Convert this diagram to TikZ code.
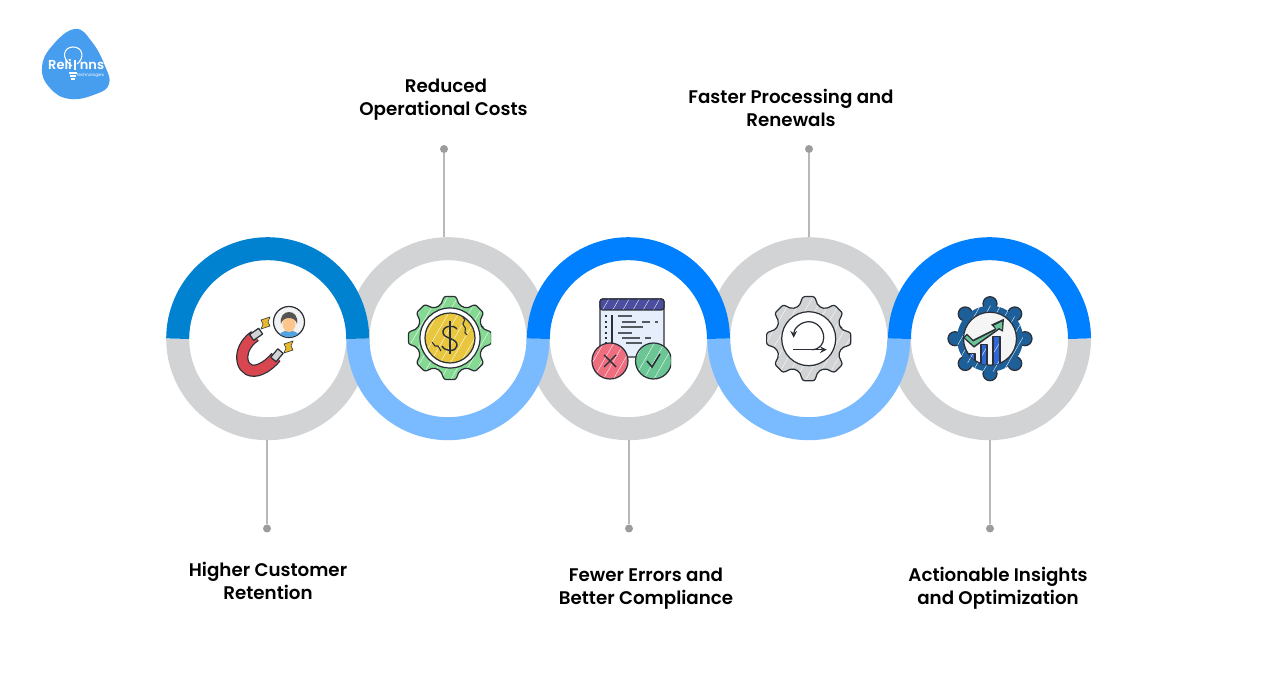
\documentclass[tikz,border=0pt]{standalone}
\usepackage{fontspec}
\setmainfont{Poppins}[BoldFont={Poppins SemiBold}]
\usetikzlibrary{patterns.meta}
\definecolor{ringgray}{HTML}{D1D3D4}
\definecolor{ringteal}{HTML}{0082D0}
\definecolor{ringblue}{HTML}{0080FF}
\definecolor{ringsky}{HTML}{7ABAFF}
\definecolor{stemgray}{HTML}{B8B8B8}
\definecolor{inkdark}{HTML}{2B3038}
\definecolor{logoblue}{HTML}{479DEE}
\definecolor{magnetred}{HTML}{D8474F}
\definecolor{boltyellow}{HTML}{E8B92E}
\definecolor{gearleaf}{HTML}{86D992}
\definecolor{coinyellow}{HTML}{E8C63E}
\definecolor{winpurple}{HTML}{4B4E9E}
\definecolor{winpale}{HTML}{E6EEFB}
\definecolor{crossred}{HTML}{EE6D7F}
\definecolor{tickgreen}{HTML}{6CC594}
\definecolor{steelblue}{HTML}{1D5F99}
\definecolor{barblue}{HTML}{2E68D8}
\tikzset{
  ringbox/.style={circle,minimum size=4.06cm,inner sep=0pt,outer sep=0pt},
  ringline/.style={line width=.46cm,line cap=butt},
  dotmark/.style={circle,fill=stemgray!85!black,minimum size=.16cm,inner sep=0pt},
  stem/.style={stemgray,line width=.04cm},
  caption/.style={align=center,font=\fontsize{10.4}{13}\selectfont\bfseries,text=black},
  iconpx/.style={shift={(0,686)},yscale=-1},
  hatch/.style={preaction={fill=#1},pattern={Lines[angle=60,distance=5pt,line width=.2pt]},pattern color=white},
  ink/.style={draw=inkdark,line width=.7pt,line join=round}
}
\newcommand{\gearpath}[2]{(-16:#1) \foreach \a in {0,45,...,315} {-- (\a-16:#1) -- (\a-8:#2) -- (\a+8:#2) -- (\a+16:#1)} -- cycle}
\begin{document}
\begin{tikzpicture}[x=.02cm,y=.02cm]
\useasboundingbox (0,0) rectangle (1288,686);
\fill[white] (0,0) rectangle (1288,686);

\foreach \n/\x in {1/267.7,2/448,3/628.4,4/808.8,5/989.5}
  \node[ringbox] (ring\n) at (\x,347.3) {};

\draw[ringline,ringgray] (ring1.center) ++(180:90) arc (180:360:90);
\draw[ringline,ringgray] (ring3.center) ++(180:90) arc (180:360:90);
\draw[ringline,ringgray] (ring5.center) ++(180:90) arc (180:360:90);
\draw[ringline,ringgray] (ring2.center) ++(0:90) arc (0:180:90);
\draw[ringline,ringgray] (ring4.center) ++(0:90) arc (0:180:90);
\draw[ringline,ringsky] (ring2.center) ++(180:90) arc (180:360:90);
\draw[ringline,ringsky] (ring4.center) ++(180:90) arc (180:360:90);
\draw[ringline,ringteal] (ring1.center) ++(0:90) arc (0:180:90);
\draw[ringline,ringblue] (ring3.center) ++(0:90) arc (0:180:90);
\draw[ringline,ringblue] (ring5.center) ++(0:90) arc (0:180:90);

\node[dotmark] (dot1) at (267,157.5) {};
\node[dotmark] (dot2) at (444,537) {};
\node[dotmark] (dot3) at (629,157.5) {};
\node[dotmark] (dot4) at (809,537) {};
\node[dotmark] (dot5) at (990,157.5) {};
\draw[stem] (dot1) -- (dot1 |- ring1.south);
\draw[stem] (dot2) -- (dot2 |- ring2.north);
\draw[stem] (dot3) -- (dot3 |- ring3.south);
\draw[stem] (dot4) -- (dot4 |- ring4.north);
\draw[stem] (dot5) -- (dot5 |- ring5.south);

\node[caption] (label1) at (268,105) {Higher Customer\\Retention};
\node[caption] (label2) at (443.5,586) {\hspace*{2.8pt}Reduced\\Operational Costs};
\node[caption] (label3) at (646,97.5) {Fewer Errors and\\Better Compliance};
\node[caption] (label4) at (791,578) {Faster Processing and\\Renewals};
\node[caption] (label5) at (998,98) {Actionable Insights\\and Optimization};

\begin{scope}[iconpx]
% logo
\fill[logoblue] plot[smooth cycle,tension=.75] coordinates {(75,29) (92,42) (105,66) (109,84) (96,94) (70,99) (50,88) (42,68) (52,46)};
\draw[white,line width=.6pt] (72,66) .. controls (60,58) and (64,47) .. (73,47) .. controls (83,47) and (85,58) .. (77,64);
\draw[white,line width=.6pt] (69,73) -- (77,73) (70,76) -- (76,76) (71,79) -- (75,79);
\draw[white,line width=1pt] (75,60) -- (75,70);
\node[white,font=\fontsize{7.4}{8}\selectfont\bfseries,anchor=base] (logoa) at (60,70) {Reli};
\node[white,font=\fontsize{7.4}{8}\selectfont\bfseries,anchor=base] (logob) at (92,70) {nns};
\node[white,font=\fontsize{2.4}{3}\selectfont,anchor=base] (logoc) at (90,76.5) {Technologies};

% magnet
\draw[inkdark,line width=7pt,line cap=butt] (255,336) .. controls (234,350) and (241,378) .. (261,369) .. controls (266,367) and (272,362) .. (276,357);
\draw[magnetred,line width=5.6pt,line cap=butt] (255,336) .. controls (234,350) and (241,378) .. (261,369) .. controls (266,367) and (272,362) .. (276,357);
\draw[ink,fill=ringgray,rotate around={-35:(256,335)}] (251,331) rectangle (262,338);
\draw[ink,fill=ringgray,rotate around={-50:(277,356)}] (272,352) rectangle (283,359);
\fill[boltyellow,draw=inkdark,line width=.3pt] (261,320) -- (270,317) -- (268,322) -- (270,326) -- (261,329) -- (263,324) -- cycle;
\fill[boltyellow,draw=inkdark,line width=.3pt] (284,344) -- (293,341) -- (291,346) -- (293,350) -- (284,353) -- (286,348) -- cycle;
\draw[ink,fill=gray!10] (289,322) circle (15.5);
\begin{scope}
\clip (289,322) circle (15);
\fill[cyan!70!blue!70!white] (278,338) .. controls (279,328) and (299,328) .. (300,338) -- cycle;
\fill[orange!45!white] (289,324) ellipse (6.5 and 8);
\fill[gray!65!black] (281,324) .. controls (278,308) and (300,308) .. (297,324) .. controls (296,316) and (282,316) .. (281,324) -- cycle;
\end{scope}

% coin gear
\begin{scope}
\clip (400,290) rectangle (491,390);
\begin{scope}[shift={(450,338)}]
\draw[ink,hatch=gearleaf,rounded corners=1.2pt] \gearpath{34}{42};
\draw[ink,fill=white] (0,0) circle (30);
\draw[ink,hatch=coinyellow] (0,0) circle (25);
\draw[inkdark,line width=.8pt] (7,-9) .. controls (3,-14) and (-8,-12) .. (-7,-5) .. controls (-6,1) and (8,0) .. (7,8) .. controls (6,14) and (-5,14) .. (-8,8);
\draw[inkdark,line width=.8pt] (0,-17) -- (0,16);
\draw[inkdark,line width=.6pt] (13,-21) .. controls (18,-17) and (10,-15) .. (14,-12) .. controls (18,-9) and (12,-6) .. (17,-3);
\draw[inkdark,line width=.6pt] (-18,4) -- (-15,8) -- (-12,8) -- (-9,13);
\end{scope}
\end{scope}

% window with the two marks
\draw[ink,fill=winpale,rounded corners=1.5pt] (600,299) rectangle (664,357);
\draw[ink,hatch=winpurple,rounded corners=1.5pt] (600,310) -- (600,299) -- (664,299) -- (664,310) -- cycle;
\draw[inkdark,line width=.9pt] (612,315) -- (612,345);
\foreach \y in {316,322,327,333,338,343}
  \draw[inkdark,line width=.9pt] (605,\y) -- (607,\y);
\draw[inkdark!80,line width=.8pt] (618,316) -- (632,316) (622,322) -- (636,322) (642,322) -- (650,322) (655,322) -- (658,322) (621,327) -- (643,327) (618,333) -- (632,333) (622,338) -- (640,338) (645,338) -- (651,338) (626,343) -- (642,343);
\draw[ink,hatch=crossred] (610,361) circle (18);
\draw[inkdark,line width=.8pt] (604,355) -- (616,367) (616,355) -- (604,367);
\begin{scope}
\clip (625,330) rectangle (671,390);
\draw[ink,hatch=tickgreen] (653.5,361) circle (18);
\draw[inkdark,line width=.9pt] (647,361) -- (652,367) -- (660,354);
\end{scope}

% process gear
\begin{scope}[shift={(808.7,338.7)}]
\draw[ink,hatch=ringgray,rounded corners=1.2pt] \gearpath{34}{42.5};
\draw[ink,fill=white] (0,0) circle (27);
\draw[inkdark,line width=.7pt,-stealth] (3,11) .. controls (11,11) and (15,5) .. (15,-1) .. controls (15,-10) and (8,-17) .. (0,-17) .. controls (-8,-17) and (-15,-10) .. (-15,-1);
\draw[inkdark,line width=.7pt,-stealth] (-16,11) -- (18,11);
\end{scope}

% analytics gear
\begin{scope}[shift={(990,338.7)}]
\foreach \a in {0,45,...,315}
  \draw[ink,fill=steelblue] (\a:35) circle (7);
\fill[hatch=steelblue] (0,0) circle (33);
\draw[ink,fill=gray!8] (0,0) circle (26.5);
\begin{scope}
\clip (0,0) circle (26.5);
\draw[ink,hatch=barblue] (-21,15) rectangle (-15,40);
\draw[ink,hatch=barblue] (-9,6) rectangle (-3,40);
\draw[ink,hatch=barblue] (3,-2) rectangle (10,40);
\end{scope}
\fill[inkdark] (-27,-1) -- (-23,-5) -- (-17,1) -- (5,-10) -- (1,-14) -- (14,-20) -- (13,-7) -- (9,-9) -- (-16,9) -- cycle;
\fill[tickgreen] (-25,-1) -- (-23,-3) -- (-17,3) -- (7,-9) -- (4,-13) -- (12,-17) -- (12,-9) -- (9,-11) -- (-16,7) -- cycle;
\end{scope}
\end{scope}
\end{tikzpicture}
\end{document}
